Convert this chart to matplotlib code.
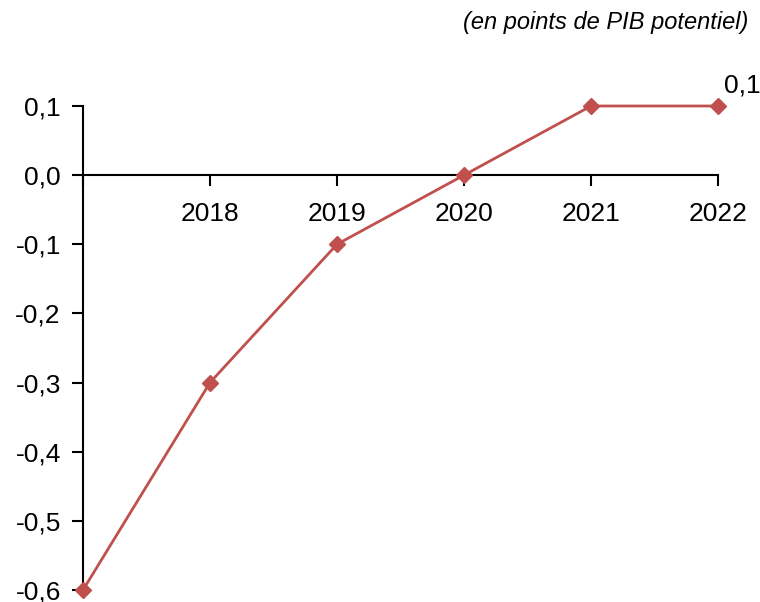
import matplotlib
matplotlib.use("Agg")
import matplotlib.pyplot as plt

# --- Data ---
years = ["", "2018", "2019", "2020", "2021", "2022"]
values = [-0.6, -0.3, -0.1, 0.0, 0.1, 0.1]
y_ticks = [-0.6, -0.5, -0.4, -0.3, -0.2, -0.1, 0.0, 0.1]

plt.rcParams["font.family"] = ["Liberation Sans", "DejaVu Sans"]

fig = plt.figure(figsize=(7.6, 6.02), dpi=100)
ax = fig.add_axes([83 / 760, 1 - 590 / 602, (718 - 83) / 760, (590 - 106) / 602])

x = list(range(len(years)))
ax.plot(x, values, color="#C0504D", linewidth=2, marker="D", markersize=8.5,
        clip_on=False, zorder=3)

ax.set_xlim(0, len(years) - 1)
ax.set_ylim(-0.6, 0.1)

# x-axis crosses at zero
ax.spines["bottom"].set_position(("data", 0))
ax.spines["top"].set_visible(False)
ax.spines["right"].set_visible(False)
for s in ("left", "bottom"):
    ax.spines[s].set_linewidth(1.5)

ax.set_xticks(x)
ax.set_xticklabels(years, fontsize=19)
ax.set_yticks(y_ticks)
ax.set_yticklabels([f"{v:.1f}".replace(".", ",") for v in y_ticks], fontsize=19)
ax.tick_params(axis="x", direction="out", length=8, width=1.5, pad=11)
ax.tick_params(axis="y", direction="out", length=8, width=1.5, pad=8)

# label for last point
ax.annotate(f"{values[-1]:.1f}".replace(".", ","), (x[-1], values[-1]),
            xytext=(4, 6), textcoords="offset points", fontsize=19,
            ha="left", va="bottom")

fig.text(748 / 760, 1 - 22 / 602, "(en points de PIB potentiel)", fontsize=17,
         style="italic", ha="right", va="center")

fig.savefig("out.png", dpi=100)
